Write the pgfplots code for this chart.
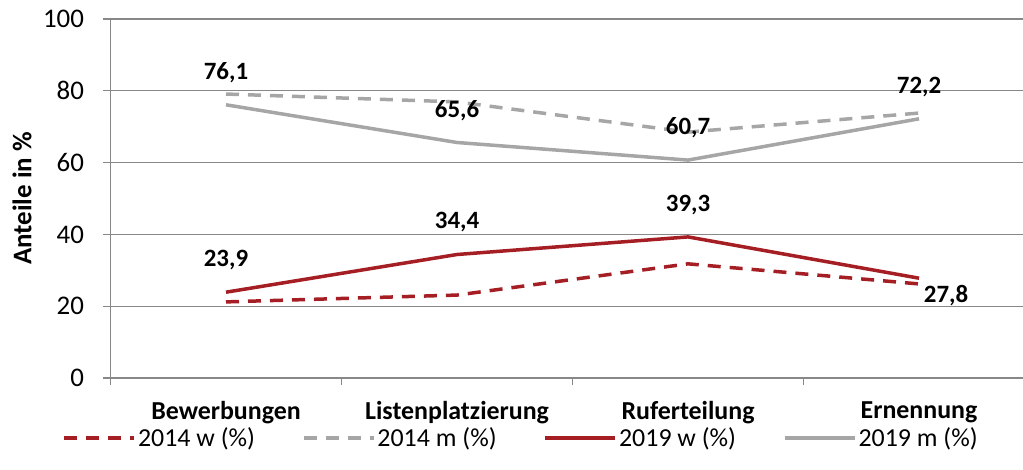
\documentclass[border=0pt]{standalone}
\usepackage{fontspec}
\setmainfont{Carlito}
\usepackage{pgfplots}
\pgfplotsset{compat=1.18}

\definecolor{wred}{RGB}{165,30,36}
\definecolor{mgray}{RGB}{166,166,166}
\definecolor{gridgray}{RGB}{136,136,136}

\begin{document}
\begin{tikzpicture}
\begin{axis}[
    scale only axis,
    width=912.5bp, height=359bp,
    xmin=-0.5, xmax=3.45,
    ymin=0, ymax=100,
    axis lines=left,
    axis line style={draw=gridgray, line width=1.2bp, -},
    ytick={0,20,...,100},
    ymajorgrids=true,
    grid style={draw=gridgray, line width=1.1bp},
    tick align=outside,
    major tick length=7bp,
    tick style={draw=gridgray, line width=1.1bp},
    xtick={-0.5,0.5,1.5,2.5},
    xticklabels={},
    extra x ticks={0,1,2,3},
    extra x tick labels={Bewerbungen,Listenplatzierung,Ruferteilung,Ernennung},
    extra x tick style={major tick length=0pt, grid=none,
        xticklabel style={font=\fontsize{26}{30}\selectfont\bfseries, yshift=-20bp}},
    yticklabel style={font=\fontsize{27}{32}\selectfont, xshift=-16bp},
    /pgf/number format/assume math mode=true,
    ylabel={\bfseries Anteile in \%},
    ylabel style={font=\fontsize{27}{32}\selectfont, at={(rel axis cs:-0.097,0.5)}, rotate=0, anchor=center},
    legend columns=4,
    legend style={at={(rel axis cs:0.45,-0.167)}, anchor=center, draw=none, fill=none,
        font=\fontsize{26}{30}\selectfont, column sep=0bp,
        /tikz/every even column/.append style={column sep=45bp}},
    legend image code/.code={\draw[#1] (0bp,0bp) -- (70bp,0bp);},
    clip=false,
    point meta=explicit symbolic,
    every node near coord/.append style={font=\fontsize{25}{30}\selectfont\bfseries, text=black, anchor=center, yshift=32bp},
]
\addplot[color=wred, line width=3.5bp, dash pattern=on 13bp off 9bp] coordinates {
    (0,21.2) (1,23.1) (2,31.8) (3,26.2)
};
\addlegendentry{2014 w (\%)}
\addplot[color=mgray, line width=3.5bp, dash pattern=on 13bp off 9bp] coordinates {
    (0,79.1) (1,76.9) (2,68.5) (3,73.8)
};
\addlegendentry{2014 m (\%)}
\addplot[color=wred, line width=3.5bp, nodes near coords,
    visualization depends on={rawx \as \rx},
    every node near coord/.append style={xshift={(\rx==3)*27bp}, yshift={(\rx==3)*(-49bp)}}] coordinates {
    (0,23.9)[23,9] (1,34.4)[34,4] (2,39.3)[39,3] (3,27.8)[27,8]
};
\addlegendentry{2019 w (\%)}
\addplot[color=mgray, line width=3.5bp, nodes near coords] coordinates {
    (0,76.1)[76,1] (1,65.6)[65,6] (2,60.7)[60,7] (3,72.2)[72,2]
};
\addlegendentry{2019 m (\%)}
\end{axis}
\pgfresetboundingbox
\path[use as bounding box] ([shift={(-110.5bp,-92bp)}]current axis.south west) rectangle ([shift={(0bp,19bp)}]current axis.north east);
\end{tikzpicture}
\end{document}
